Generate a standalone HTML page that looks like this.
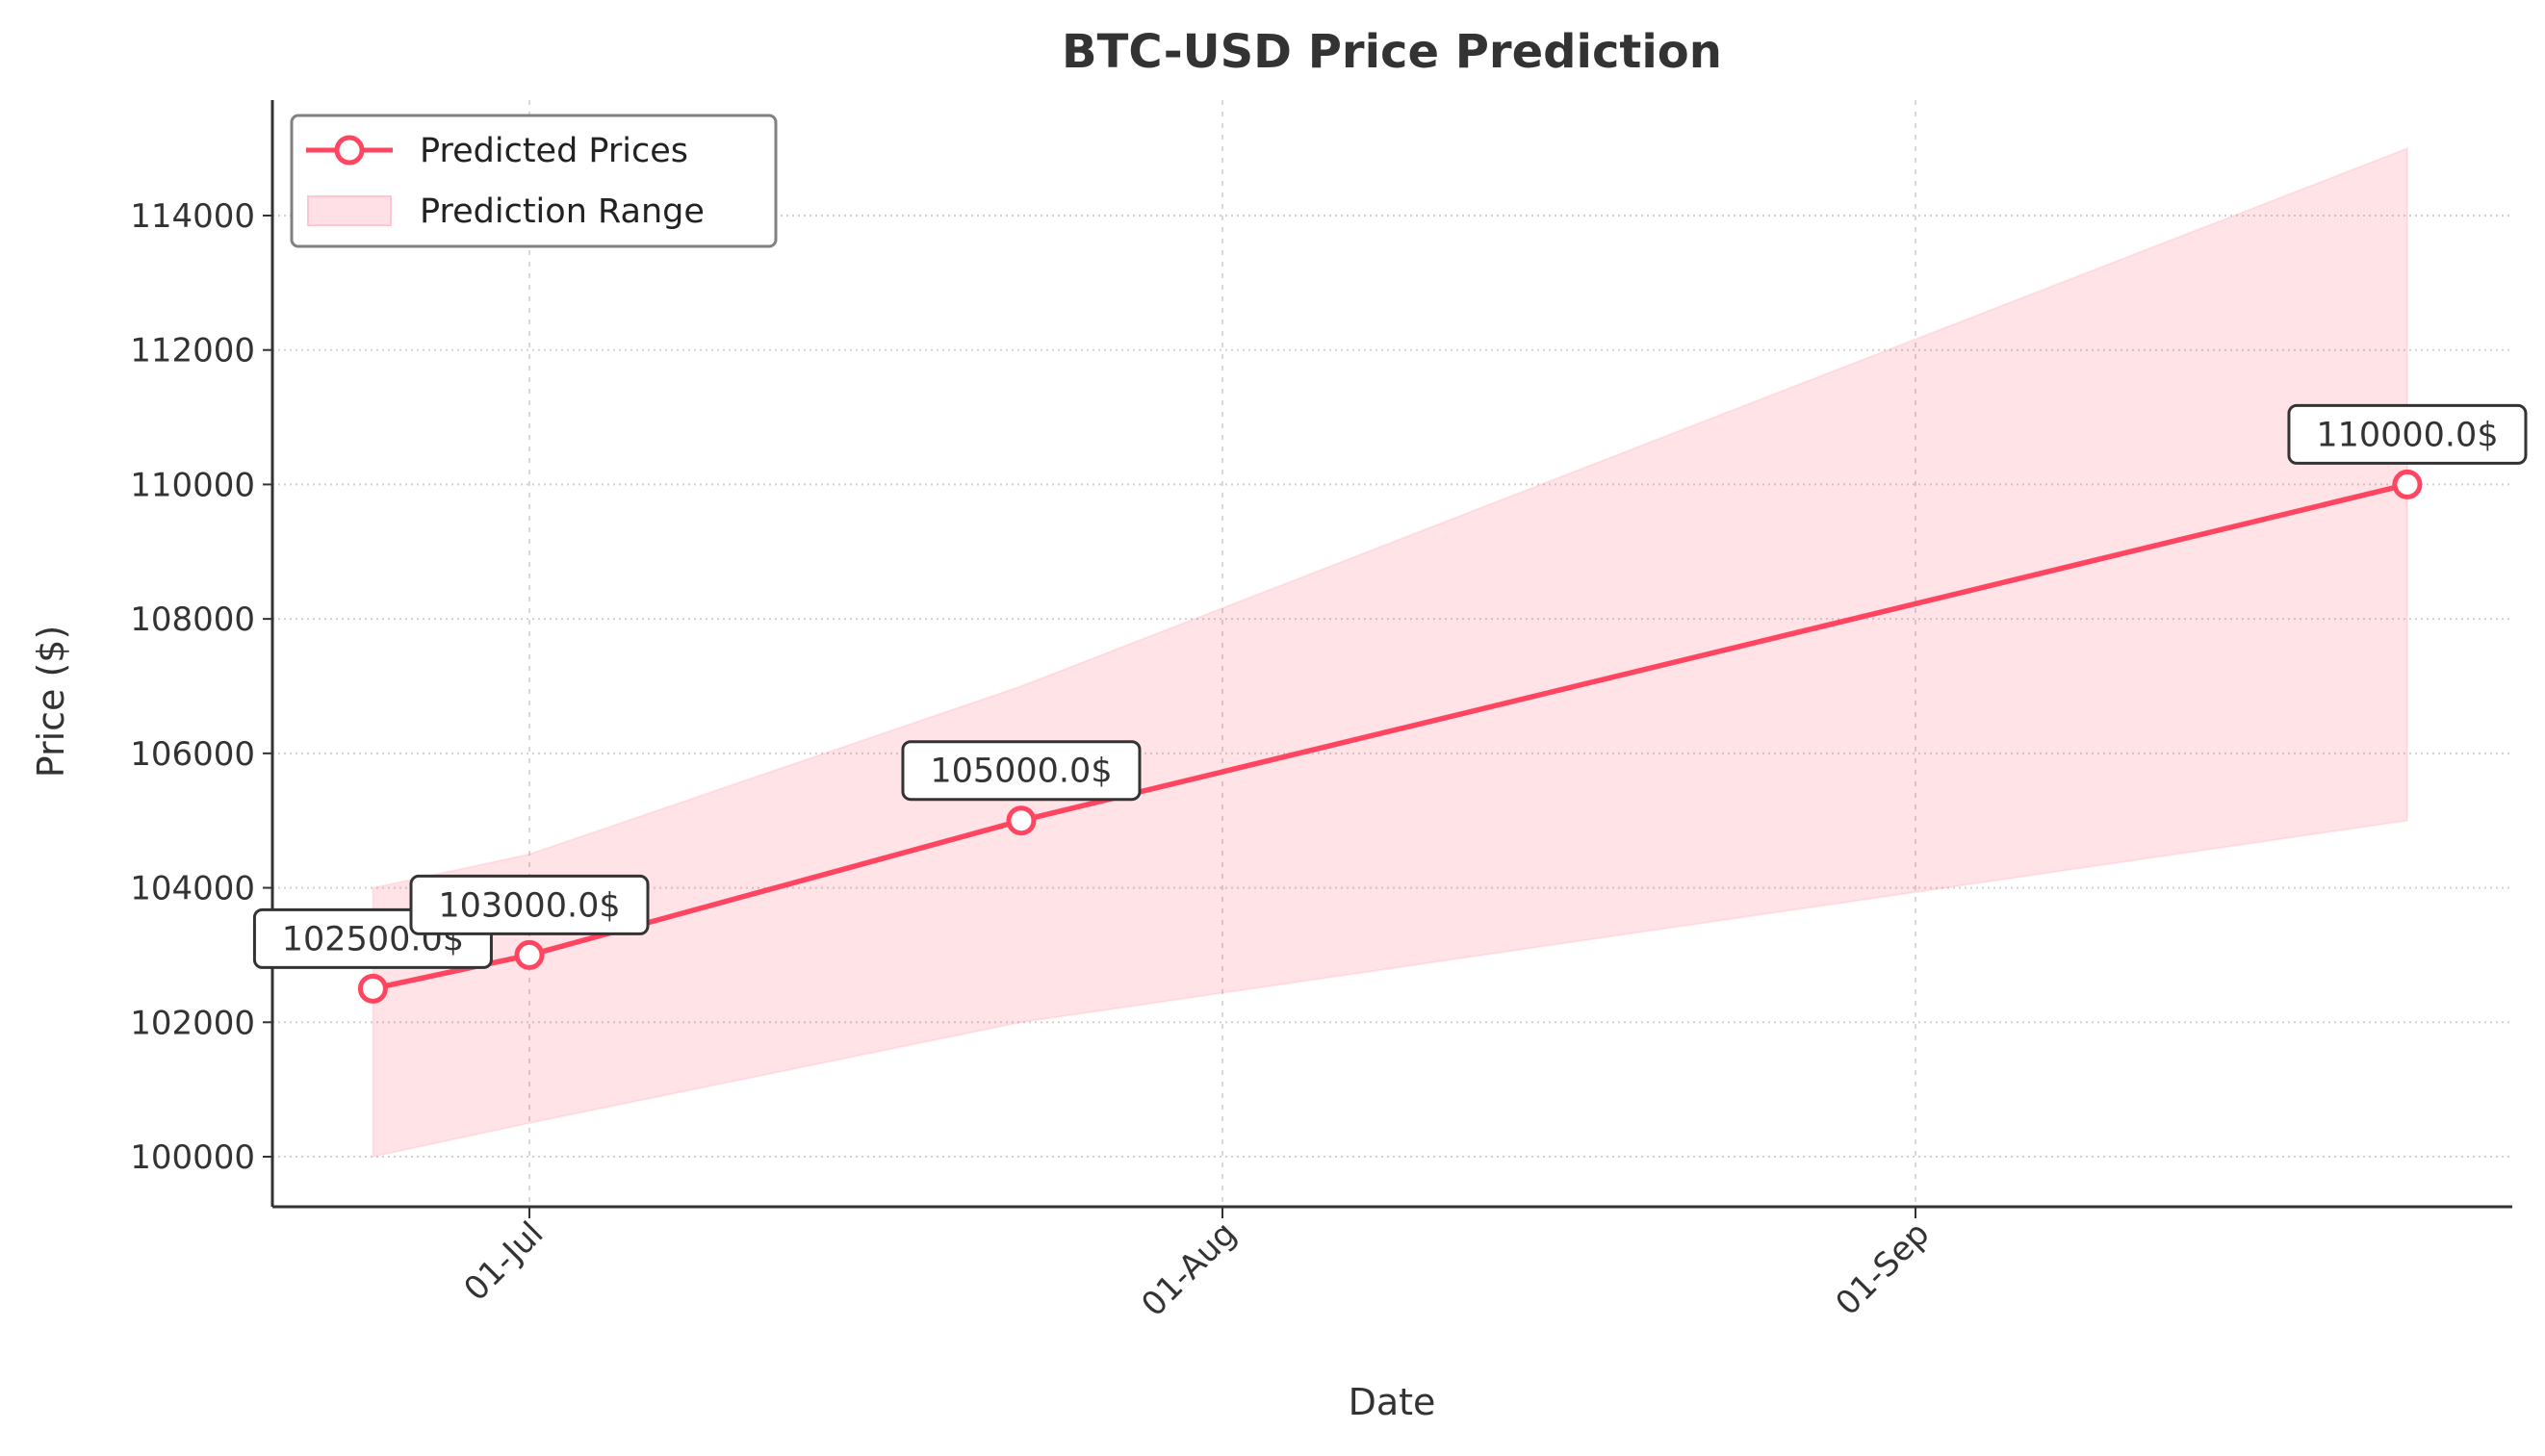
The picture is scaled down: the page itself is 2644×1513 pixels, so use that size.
<!DOCTYPE html>
<html><head><meta charset="utf-8"><style>
html,body{margin:0;padding:0;background:#fff;}
svg{display:block;font-family:"DejaVu Sans","Liberation Sans",sans-serif;}
</style></head><body>
<svg id="chart" width="2644" height="1513" viewBox="0 0 2644 1513" xmlns="http://www.w3.org/2000/svg">
<rect x="0" y="0" width="2644" height="1513" fill="#fff"/>
<text x="1446" y="70" text-anchor="middle" font-size="48" font-weight="bold" fill="#333">BTC-USD Price Prediction</text>
<g id="grid"></g>
<g id="band"></g>
<g id="series"></g>
<g id="axes"></g>
<g id="annot"></g>
<text x="1446" y="1470" text-anchor="middle" font-size="38" fill="#333">Date</text>
<text transform="translate(66,729) rotate(-90)" text-anchor="middle" font-size="38" fill="#333">Price ($)</text>
<g>
<rect x="303" y="120" width="503" height="136" rx="7" fill="#fff" stroke="#808080" stroke-width="3"/>
<line x1="318" y1="156" x2="408" y2="156" stroke="#ff4560" stroke-width="5"/>
<circle cx="363" cy="156" r="13" fill="#fff" stroke="#ff4560" stroke-width="5"/>
<text x="436" y="168" font-size="35" fill="#222">Predicted Prices</text>
<rect x="320" y="204" width="86" height="30" fill="#ffe0e6" stroke="#ffc6cf" stroke-width="2"/>
<text x="436" y="231" font-size="35" fill="#222">Prediction Range</text>
</g>
</svg>
<script>
const dates = ["2025-06-24","2025-07-01","2025-07-23","2025-09-23"];
const predicted = [102500,103000,105000,110000];
const lowerBound = [100000,100500,102000,105000];
const upperBound = [104000,104500,107000,115000];
const yTicks = [100000,102000,104000,106000,108000,110000,112000,114000];
const xTickDates = ["2025-07-01","2025-08-01","2025-09-01"];
const xTickLabels = ["01-Jul","01-Aug","01-Sep"];

const NS="http://www.w3.org/2000/svg";
const L=283,R=2610,B=1254,T=104;
const day=86400000, ref=Date.parse("2025-07-01");
function xs(d){return 550+(Date.parse(d)-ref)/day*(720/31);}
function ys(v){return 1202-(v-100000)*(978/14000);}
function mk(tag,attrs,parent){const e=document.createElementNS(NS,tag);for(const k in attrs)e.setAttribute(k,attrs[k]);parent.appendChild(e);return e;}

const grid=document.getElementById('grid'),axes=document.getElementById('axes');
yTicks.forEach(v=>{
  const y=ys(v);
  const g=mk('line',{x1:L,x2:R,y1:y,y2:y,stroke:'#d0d0d0','stroke-width':2,'stroke-dasharray':'2,4'},grid);
  
  
  mk('line',{x1:L-10,x2:L,y1:y,y2:y,stroke:'#333','stroke-width':2},axes);
  const t=mk('text',{x:L-18,y:y+12,'text-anchor':'end','font-size':34,fill:'#333'},axes);
  t.textContent=v;
  
  
});
xTickDates.forEach((d,i)=>{
  const x=xs(d);
  const g=mk('line',{x1:x,x2:x,y1:T,y2:B,stroke:'#d8d8d8','stroke-width':2,'stroke-dasharray':'5,7'},grid);
  
  
  mk('line',{x1:x,x2:x,y1:B,y2:B+12,stroke:'#333','stroke-width':2},axes);
  const t=mk('text',{transform:`translate(${x+16},${B+30}) rotate(-45)`,'text-anchor':'end','font-size':34,fill:'#333'},axes);
  t.textContent=xTickLabels[i];
  
  
});
mk('line',{x1:L,x2:L,y1:T,y2:B,stroke:'#333','stroke-width':3},axes);
mk('line',{x1:L,x2:R,y1:B,y2:B,stroke:'#333','stroke-width':3},axes);

let pts=dates.map((d,i)=>xs(d)+','+ys(upperBound[i]));
for(let i=dates.length-1;i>=0;i--)pts.push(xs(dates[i])+','+ys(lowerBound[i]));
const band=mk('polygon',{points:pts.join(' '),fill:'#ff4560','fill-opacity':0.15,stroke:'#ff4560','stroke-opacity':0.1,'stroke-width':2},document.getElementById('band'));



const ser=document.getElementById('series');
const line=mk('polyline',{points:dates.map((d,i)=>xs(d)+','+ys(predicted[i])).join(' '),fill:'none',stroke:'#ff4560','stroke-width':5.5},ser);


const an=document.getElementById('annot');
dates.forEach((d,i)=>{
  const x=xs(d),y=ys(predicted[i]);
  const c=mk('circle',{cx:x,cy:y,r:13,fill:'#fff',stroke:'#ff4560','stroke-width':5},ser);
  
  
  const w=246,h=60,cy=y-52;
  const g=mk('g',{},an);
  
  
  mk('rect',{x:x-w/2,y:cy-h/2,width:w,height:h,rx:8,fill:'#fff',stroke:'#333','stroke-width':3},g);
  const t=mk('text',{x:x,y:cy+12,'text-anchor':'middle','font-size':35,fill:'#333'},g);
  t.textContent=predicted[i].toFixed(1)+'$';
});
</script>
</body></html>
